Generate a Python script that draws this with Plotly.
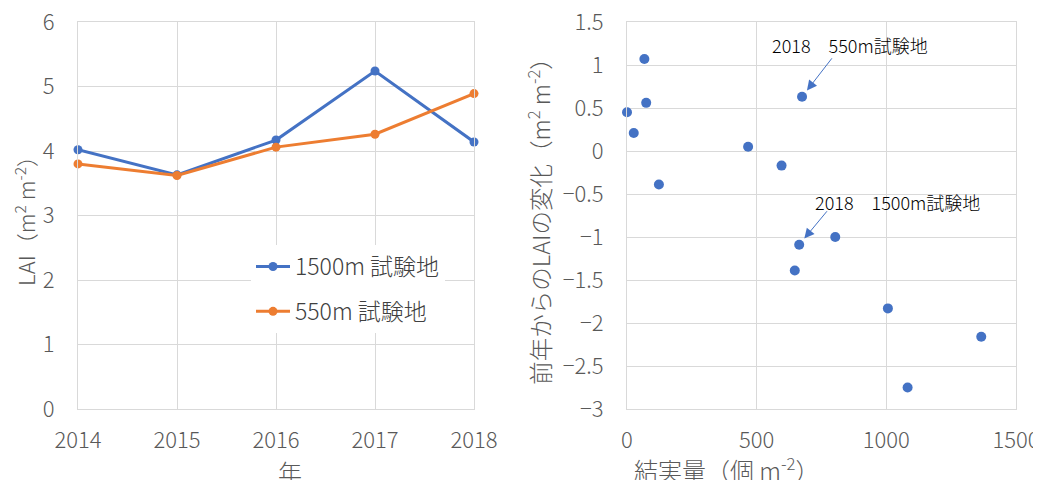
import plotly.graph_objects as go

# ---- data ----
years = [2014, 2015, 2016, 2017, 2018]
lai_1500 = [4.02, 3.63, 4.17, 5.24, 4.14]
lai_550 = [3.80, 3.62, 4.06, 4.26, 4.89]

fruit = [0, 26, 67, 74, 123, 467, 596, 675, 664, 647, 803, 1006, 1082, 1366]
dlai = [0.45, 0.21, 1.07, 0.56, -0.39, 0.05, -0.17, 0.63, -1.09, -1.39, -1.00, -1.83, -2.75, -2.16]
idx_550_2018 = 7
idx_1500_2018 = 8

BLUE = "#4472C4"
ORANGE = "#ED7D31"
GRID = "#D9D9D9"
TICK = "#595959"
FONT = "Noto Sans CJK JP"
# page body has an 8px margin, so the figure is drawn 8px smaller
W, H = 1033, 472
OFF = 8

fig = go.Figure()
fig.add_trace(go.Scatter(x=years, y=lai_1500, mode="lines+markers", name="1500m 試験地",
                         line=dict(color=BLUE, width=3), marker=dict(size=9, color=BLUE),
                         legendgroup="a", xaxis="x", yaxis="y", cliponaxis=False))
fig.add_trace(go.Scatter(x=years, y=lai_550, mode="lines+markers", name="550m 試験地",
                         line=dict(color=ORANGE, width=3), marker=dict(size=9, color=ORANGE),
                         legendgroup="b", xaxis="x", yaxis="y", cliponaxis=False))
fig.add_trace(go.Scatter(x=fruit, y=dlai, mode="markers", showlegend=False,
                         marker=dict(size=10, color=BLUE), xaxis="x2", yaxis="y2", cliponaxis=False))

axis_common = dict(showgrid=True, gridcolor=GRID, gridwidth=1, zeroline=False,
                   showline=True, linecolor=GRID, linewidth=1, mirror=True, ticks="",
                   tickfont=dict(family=FONT, size=22, color=TICK, weight=300),
                   automargin=False, ticklabeloverflow="allow")

title_font = dict(family=FONT, size=22, color=TICK, weight=300)
xtitle_font = dict(family=FONT, size=24, color=TICK, weight=300)

top, bottom = 22 - OFF, 409 - OFF
plot_h = bottom - top
x1dom = [(78 - OFF) / W, (474 - OFF) / W]
x2dom = [(627 - OFF) / W, (1016 - OFF) / W]

fig.update_layout(
    width=W, height=H,
    margin=dict(l=0, r=0, t=top, b=H - bottom, autoexpand=False),
    paper_bgcolor="white", plot_bgcolor="white",
    font=dict(family=FONT, color=TICK, weight=300),
    xaxis=dict(domain=x1dom, range=[2014, 2018], tickvals=years, anchor="y",
               ticklabelstandoff=12, **axis_common),
    yaxis=dict(domain=[0, 1], range=[0, 6], dtick=1, anchor="x", ticklabelstandoff=18,
               title=dict(text="LAI（m<sup>2</sup> m<sup>-2</sup>）", font=title_font, standoff=8),
               **axis_common),
    xaxis2=dict(domain=x2dom, range=[0, 1500], dtick=500, anchor="y2",
                ticklabelstandoff=12, **axis_common),
    yaxis2=dict(domain=[0, 1], range=[-3, 1.5], dtick=0.5, anchor="x2", ticklabelstandoff=18,
                title=dict(text="前年からのLAIの変化（m<sup>2</sup> m<sup>-2</sup>）",
                           font=dict(family=FONT, size=23.5, color=TICK, weight=300), standoff=5),
                **axis_common),
    legend=dict(x=(251 - OFF) / W, y=(409 - 245) / plot_h, xanchor="left", yanchor="top",
                bgcolor="white", borderwidth=0, tracegroupgap=12, itemwidth=34,
                font=dict(family=FONT, size=23, color="#404040", weight=300)),
    showlegend=True,
)

# x-axis titles (placed as paper annotations so they can sit at the bottom edge like the reference)
fig.add_annotation(x=sum(x1dom) / 2, y=0, xref="paper", yref="paper", yanchor="middle",
                   yshift=-(471 - 409), text="年", showarrow=False, font=xtitle_font)
fig.add_annotation(x=sum(x2dom) / 2, y=0, xref="paper", yref="paper", yanchor="middle",
                   yshift=-(469 - 409), text="結実量（個 m<sup>-2</sup>）", showarrow=False, font=xtitle_font)

fig.add_annotation(x=fruit[idx_550_2018], y=dlai[idx_550_2018], xref="x2", yref="y2",
                   text="", showarrow=True, ax=31, ay=-40, arrowhead=2, arrowsize=2,
                   arrowwidth=1, arrowcolor=BLUE, standoff=8)
fig.add_annotation(x=fruit[idx_1500_2018], y=dlai[idx_1500_2018], xref="x2", yref="y2",
                   text="", showarrow=True, ax=29, ay=-35, arrowhead=2, arrowsize=2,
                   arrowwidth=1, arrowcolor=BLUE, standoff=8)
fig.add_annotation(x=fruit[idx_550_2018], y=dlai[idx_550_2018], xref="x2", yref="y2",
                   text="2018　550m試験地", showarrow=False, xshift=48, yshift=52,
                   font=dict(family=FONT, size=18, color="#000000"))
fig.add_annotation(x=fruit[idx_1500_2018], y=dlai[idx_1500_2018], xref="x2", yref="y2",
                   text="2018　1500m試験地", showarrow=False, xshift=98, yshift=43,
                   font=dict(family=FONT, size=18, color="#000000"))

fig.write_html("out.html")
